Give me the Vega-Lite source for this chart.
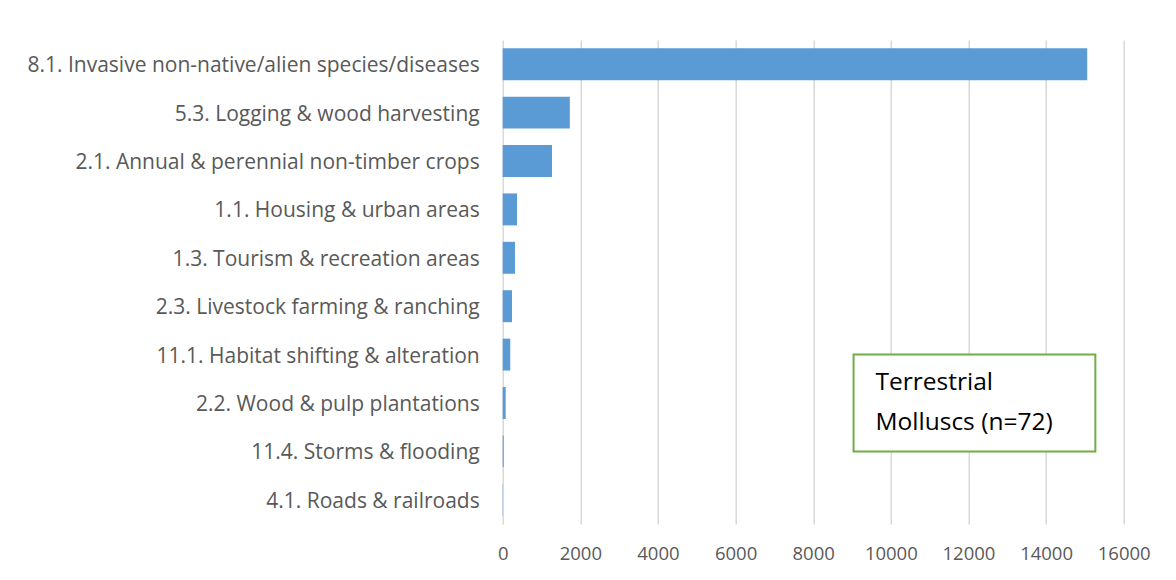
{
  "$schema": "https://vega.github.io/schema/vega-lite/v6.json",
  "width": 621,
  "height": 484,
  "autosize": {"type": "none"},
  "padding": {"left": 502.7, "top": 40, "right": 52.3, "bottom": 56},
  "background": "white",
  "config": {
    "view": {"stroke": null},
    "font": "Open Sans"
  },
  "data": {
    "values": [
      {"threat": "8.1. Invasive non-native/alien species/diseases", "count": 15060},
      {"threat": "5.3. Logging & wood harvesting", "count": 1730},
      {"threat": "2.1. Annual & perennial non-timber crops", "count": 1270},
      {"threat": "1.1. Housing & urban areas", "count": 368},
      {"threat": "1.3. Tourism & recreation areas", "count": 317},
      {"threat": "2.3. Livestock farming & ranching", "count": 240},
      {"threat": "11.1. Habitat shifting & alteration", "count": 195},
      {"threat": "2.2. Wood & pulp plantations", "count": 77},
      {"threat": "11.4. Storms & flooding", "count": 26},
      {"threat": "4.1. Roads & railroads", "count": 8}
    ]
  },
  "encoding": {
    "y": {
      "field": "threat",
      "type": "nominal",
      "sort": null,
      "scale": {"paddingInner": 0.34, "paddingOuter": 0.17},
      "axis": {
        "title": null,
        "domain": false,
        "ticks": false,
        "labelPadding": 23.5,
        "labelOffset": 2,
        "labelFontSize": 21,
        "labelColor": "#595959",
        "labelFont": "Open Sans",
        "labelLimit": 600
      }
    }
  },
  "layer": [
    {
      "mark": {"type": "bar", "color": "#5B9BD5"},
      "encoding": {
        "x": {
          "field": "count",
          "type": "quantitative",
          "scale": {"domain": [0, 16000], "nice": false},
          "axis": {
            "title": null,
            "domain": false,
            "ticks": false,
            "values": [0, 2000, 4000, 6000, 8000, 10000, 12000, 14000, 16000],
            "format": "d",
            "labelOverlap": false,
            "labelBound": false,
            "labelFlush": false,
            "labelPadding": 20,
            "labelFontSize": 18.5,
            "labelColor": "#595959",
            "labelFont": "Open Sans",
            "grid": true,
            "gridColor": "#D9D9D9",
            "gridWidth": 1.5,
            "zindex": 0
          }
        }
      }
    },
    {
      "data": {"values": [{}]},
      "mark": {"type": "rect", "fill": "white", "stroke": "#70AD47", "strokeWidth": 2},
      "encoding": {
        "x": {"datum": 9040, "type": "quantitative"},
        "x2": {"datum": 15270},
        "y": {"datum": "11.1. Habitat shifting & alteration", "bandPosition": 0.5},
        "y2": {"datum": "11.4. Storms & flooding", "bandPosition": 0.5}
      }
    },
    {
      "data": {"values": [{}]},
      "mark": {
        "type": "text",
        "align": "left",
        "baseline": "middle",
        "fontSize": 24.5,
        "color": "black",
        "font": "Open Sans",
        "lineHeight": 40,
        "dy": -20
      },
      "encoding": {
        "x": {"datum": 9606, "type": "quantitative"},
        "y": {"datum": "2.2. Wood & pulp plantations", "bandPosition": 0.5},
        "text": {"value": ["Terrestrial", "Molluscs (n=72)"]}
      }
    }
  ]
}
